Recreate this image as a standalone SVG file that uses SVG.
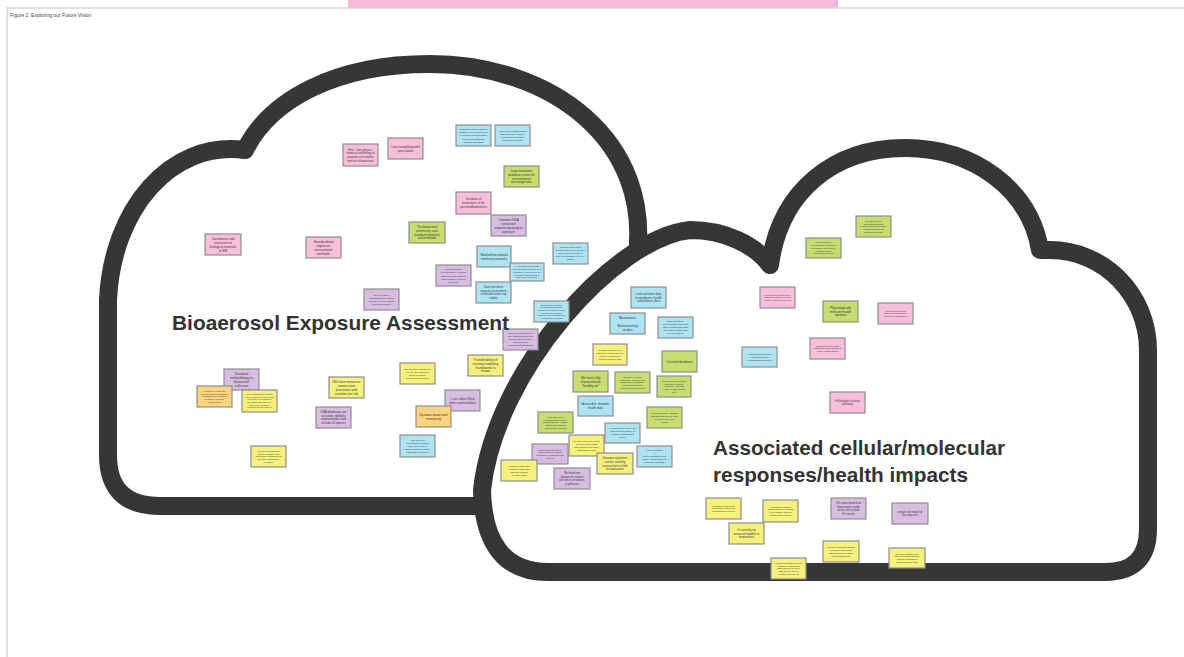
<svg xmlns="http://www.w3.org/2000/svg" width="1184" height="657" viewBox="0 0 1184 657">
<style>
.cloud{fill:#fff;stroke:#363636;stroke-width:18;stroke-linejoin:round}
.note rect{stroke:#8e8e8e;stroke-width:1.2}
.pk{fill:#f8bfdb}.bl{fill:#aee3f4}.gr{fill:#c8dd70}.pu{fill:#d8bde2}.ye{fill:#f6f07c}.or{fill:#fcd47f}
.note text{font-family:"Liberation Sans",Arial,sans-serif;fill:#3a3a3a;text-anchor:middle}
.head{font-family:"Liberation Sans",Arial,sans-serif;font-weight:700;font-size:20.5px;fill:#333}
.title{font-family:"Liberation Sans",Arial,sans-serif;font-size:5px;fill:#444}
</style>
<rect x="0" y="0" width="1184" height="657" fill="#fff"/>
<rect x="348" y="0" width="490" height="8" fill="#f8bad8"/>
<rect x="7" y="8" width="1190" height="660" fill="none" stroke="#d6d6d6" stroke-width="1.5"/>
<text class="title" x="10" y="17">Figure 2: Exploring our Future Vision</text>

<g id="cloud-left">
<path class="cloud" d="M160 506 L600 506 L640 330 L636 262 C655 140 550 64 430 64 C335 64 270 100 245 150 C170 140 112 210 108 300 L108 455 Q108 506 160 506 Z"/>
</g>
<g id="cloud-right">
<path class="cloud" d="M548 572 L1105 572 Q1148 572 1148 529 L1148 350 C1148 295 1104 250 1050 250 L1040 250 C1030 190 975 148 905 148 C835 148 780 190 770 265 C755 245 725 230 690 230 C615 238 495 370 482 490 Q484 572 548 572 Z"/>
</g>

<g id="connectors"></g>

<g id="n1" class="note"><rect class="pk" x="343" y="144" width="35" height="22"/><text font-size="2.8"><tspan x="360.5" y="150.7">Real - time physico-</tspan><tspan x="360.5" y="154.3">chemical and biological</tspan><tspan x="360.5" y="157.9">properties of complex</tspan><tspan x="360.5" y="161.5">mixture of bioaerosol</tspan></text></g>
<g id="n2" class="note"><rect class="pk" x="388" y="138" width="35" height="21"/><text font-size="3.5"><tspan x="405.5" y="147.6">Live sampling with</tspan><tspan x="405.5" y="152.1">speciation</tspan></text></g>
<g id="n3" class="note"><rect class="bl" x="456" y="125" width="35" height="21"/><text font-size="2.3"><tspan x="473.5" y="130.2">Benchmarking the mutation</tspan><tspan x="473.5" y="133.3">database mix for developers</tspan><tspan x="473.5" y="136.4">to provide high-throughput</tspan><tspan x="473.5" y="139.5">genotyping databases</tspan><tspan x="473.5" y="142.6">(network standards)</tspan></text></g>
<g id="n4" class="note"><rect class="bl" x="495" y="125" width="35" height="21"/><text font-size="2.5"><tspan x="512.5" y="131.8">High-tech measurements</tspan><tspan x="512.5" y="134.9">with data mix used by</tspan><tspan x="512.5" y="138">experts to represent</tspan><tspan x="512.5" y="141.1">dispersion models</tspan></text></g>
<g id="n5" class="note"><rect class="gr" x="504" y="166" width="35" height="21"/><text font-size="3"><tspan x="521.5" y="171.9">Large taxonomic</tspan><tspan x="521.5" y="175.7">databases exists for</tspan><tspan x="521.5" y="179.5">environmental</tspan><tspan x="521.5" y="183.3">microorganisms</tspan></text></g>
<g id="n6" class="note"><rect class="pk" x="456" y="192" width="35" height="22"/><text font-size="2.9"><tspan x="473.5" y="200.3">Database of</tspan><tspan x="473.5" y="204.1">biomarkers of the</tspan><tspan x="473.5" y="207.9">specified/biomonitors</tspan></text></g>
<g id="n7" class="note"><rect class="pu" x="491" y="215" width="35" height="21"/><text font-size="3.2"><tspan x="508.5" y="220.7">Common DNA</tspan><tspan x="508.5" y="224.7">extraction/</tspan><tspan x="508.5" y="228.7">sequencing analysis</tspan><tspan x="508.5" y="232.7">approach</tspan></text></g>
<g id="n8" class="note"><rect class="pk" x="205" y="234" width="36" height="21"/><text font-size="3.1"><tspan x="223" y="239.7">Contribution and</tspan><tspan x="223" y="243.7">interaction of</tspan><tspan x="223" y="247.7">biological materials</tspan><tspan x="223" y="251.7">to PM</tspan></text></g>
<g id="n9" class="note"><rect class="pk" x="306" y="237" width="35" height="21"/><text font-size="3.4"><tspan x="323.5" y="242.7">Standardised</tspan><tspan x="323.5" y="246.7">exposure</tspan><tspan x="323.5" y="250.7">assessment</tspan><tspan x="323.5" y="254.7">methods</tspan></text></g>
<g id="n10" class="note"><rect class="gr" x="409" y="222" width="36" height="21"/><text font-size="3.1"><tspan x="427" y="227.9">The bioaerosol</tspan><tspan x="427" y="231.7">community uses</tspan><tspan x="427" y="235.5">standard protocols</tspan><tspan x="427" y="239.3">and methods</tspan></text></g>
<g id="n11" class="note"><rect class="pu" x="436" y="265" width="35" height="21"/><text font-size="2.5"><tspan x="453.5" y="270.1">Robust globally</tspan><tspan x="453.5" y="273.3">representative (spatial)</tspan><tspan x="453.5" y="276.5">baseline data exists so</tspan><tspan x="453.5" y="279.7">that change(s) can be</tspan><tspan x="453.5" y="282.9">identified</tspan></text></g>
<g id="n12" class="note"><rect class="pu" x="364" y="289" width="35" height="21"/><text font-size="2.5"><tspan x="381.5" y="295.7">The exposure</tspan><tspan x="381.5" y="298.9">assessment is robust/</tspan><tspan x="381.5" y="302.1">validated, on at least the</tspan><tspan x="381.5" y="305.3">time and location</tspan></text></g>
<g id="n13" class="note"><rect class="bl" x="477" y="246" width="34" height="21"/><text font-size="2.9"><tspan x="494" y="255.7">National/international</tspan><tspan x="494" y="259.5">monitoring networks</tspan></text></g>
<g id="n14" class="note"><rect class="bl" x="510" y="263" width="34" height="18"/><text font-size="2.2"><tspan x="527" y="267.2">A regression model which</tspan><tspan x="527" y="270">analysis with confidence and</tspan><tspan x="527" y="272.8">a measure of bioaerosol, the</tspan><tspan x="527" y="275.6">accuracy distribution is at</tspan><tspan x="527" y="278.4">a 30-min or finer scale</tspan></text></g>
<g id="n15" class="note"><rect class="bl" x="476" y="282" width="35" height="21"/><text font-size="2.6"><tspan x="493.5" y="288.4">Good and robust</tspan><tspan x="493.5" y="291.8">exposure assessments</tspan><tspan x="493.5" y="295.2">are flexible/used in epi</tspan><tspan x="493.5" y="298.6">studies</tspan></text></g>
<g id="n16" class="note"><rect class="bl" x="553" y="243" width="35" height="21"/><text font-size="2.3"><tspan x="570.5" y="248.4">Characteristics of the</tspan><tspan x="570.5" y="251.4">bioaerosols are well defined</tspan><tspan x="570.5" y="254.4">when in the presence of</tspan><tspan x="570.5" y="257.4">other air pollutants (e.g. PM,</tspan><tspan x="570.5" y="260.4">gases)</tspan></text></g>
<g id="n17" class="note"><rect class="bl" x="534" y="301" width="35" height="21"/><text font-size="2.1"><tspan x="551.5" y="305.7">Identification of disease</tspan><tspan x="551.5" y="308.3">symptoms in bioaerosol</tspan><tspan x="551.5" y="311">exposure, the source-specific</tspan><tspan x="551.5" y="313.6">release of bioaerosols,</tspan><tspan x="551.5" y="316.3">emission rates and dispersion</tspan><tspan x="551.5" y="318.9">of bioaerosol emissions</tspan></text></g>
<g id="n18" class="note"><rect class="pu" x="503" y="329" width="35" height="21"/><text font-size="2.5"><tspan x="520.5" y="334.4">There is a repository of</tspan><tspan x="520.5" y="337.4">well characterised and</tspan><tspan x="520.5" y="340.4">tested samples taken</tspan><tspan x="520.5" y="343.4">from different</tspan><tspan x="520.5" y="346.4">environmental settings</tspan></text></g>
<g id="n19" class="note"><rect class="pu" x="224" y="369" width="35" height="21"/><text font-size="3.3"><tspan x="241.5" y="374.8">Standard</tspan><tspan x="241.5" y="378.7">methodology to</tspan><tspan x="241.5" y="382.6">bioaerosol</tspan><tspan x="241.5" y="386.5">collection</tspan></text></g>
<g id="n20" class="note"><rect class="or" x="197" y="386" width="35" height="21"/><text font-size="2.3"><tspan x="214.5" y="391.7">Continue to read and</tspan><tspan x="214.5" y="394.5">develop different sampling</tspan><tspan x="214.5" y="397.3">methods. Development</tspan><tspan x="214.5" y="400.1">frequently currently</tspan><tspan x="214.5" y="402.9">cultural times</tspan></text></g>
<g id="n21" class="note"><rect class="ye" x="242" y="390" width="35" height="22"/><text font-size="2.2"><tspan x="259.5" y="395.1">We turn sampling methods</tspan><tspan x="259.5" y="397.8">from air sampled to two parts</tspan><tspan x="259.5" y="400.4">to provide a comparison</tspan><tspan x="259.5" y="403.1">the right parts (dose) are</tspan><tspan x="259.5" y="405.7">bioaerosol metabolic</tspan><tspan x="259.5" y="408.4">reactions and the data set</tspan></text></g>
<g id="n22" class="note"><rect class="ye" x="329" y="377" width="35" height="21"/><text font-size="3.3"><tspan x="346.5" y="382.8">We have means to</tspan><tspan x="346.5" y="386.7">assess new</tspan><tspan x="346.5" y="390.6">processes and</tspan><tspan x="346.5" y="394.5">activities for risk</tspan></text></g>
<g id="n23" class="note"><rect class="pu" x="316" y="407" width="35" height="21"/><text font-size="3"><tspan x="333.5" y="413.2">DNA databases are</tspan><tspan x="333.5" y="416.8">accurate, globally</tspan><tspan x="333.5" y="420.4">representative and</tspan><tspan x="333.5" y="424">include all species</tspan></text></g>
<g id="n24" class="note"><rect class="ye" x="251" y="446" width="35" height="21"/><text font-size="2.3"><tspan x="268.5" y="451.7">We have a consistent</tspan><tspan x="268.5" y="454.5">metric to capture and</tspan><tspan x="268.5" y="457.3">bioaerosol emissions and</tspan><tspan x="268.5" y="460.1">the risk of bioaerosol</tspan><tspan x="268.5" y="462.9">exposure</tspan></text></g>
<g id="n25" class="note"><rect class="ye" x="400" y="363" width="35" height="21"/><text font-size="2.5"><tspan x="417.5" y="369.9">Bio-aerosols monitoring</tspan><tspan x="417.5" y="372.9">will be as normal as</tspan><tspan x="417.5" y="375.9">other air quality</tspan><tspan x="417.5" y="378.9">monitoring programs</tspan></text></g>
<g id="n26" class="note"><rect class="ye" x="468" y="355" width="35" height="21"/><text font-size="3.2"><tspan x="485.5" y="360.9">Transferability of</tspan><tspan x="485.5" y="364.7">existing modelling</tspan><tspan x="485.5" y="368.5">frameworks is</tspan><tspan x="485.5" y="372.3">known</tspan></text></g>
<g id="n27" class="note"><rect class="pu" x="445" y="390" width="35" height="21"/><text font-size="3.2"><tspan x="462.5" y="399.7">I can collect Real</tspan><tspan x="462.5" y="403.5">time resolved data</tspan></text></g>
<g id="n28" class="note"><rect class="or" x="416" y="406" width="35" height="21"/><text font-size="3.2"><tspan x="433.5" y="415.7">Dynamic bioaerosol</tspan><tspan x="433.5" y="419.5">monitoring</tspan></text></g>
<g id="n29" class="note"><rect class="bl" x="400" y="435" width="35" height="22"/><text font-size="2.4"><tspan x="417.5" y="441.1">I am part of a</tspan><tspan x="417.5" y="444">collaborative network</tspan><tspan x="417.5" y="446.9">where everyone is</tspan><tspan x="417.5" y="449.8">sharing samples and/or</tspan><tspan x="417.5" y="452.7">data and/or methods</tspan></text></g>

<g id="n30" class="note"><rect class="bl" x="631" y="287" width="35" height="21"/><text font-size="3.1"><tspan x="648.5" y="294.8">Link real-time data</tspan><tspan x="648.5" y="298.6">to syndromic health</tspan><tspan x="648.5" y="302.4">surveillance data</tspan></text></g>
<g id="n31" class="note"><rect class="bl" x="610" y="313" width="35" height="21"/><text font-size="3.3"><tspan x="627.5" y="318.8">Biomarkers</tspan><tspan x="627.5" y="326.6">Biomonitoring</tspan><tspan x="627.5" y="330.5">studies</tspan></text></g>
<g id="n32" class="note"><rect class="bl" x="658" y="317" width="35" height="21"/><text font-size="2.5"><tspan x="675.5" y="322.4">Easy access to</tspan><tspan x="675.5" y="325.4">demographic data and</tspan><tspan x="675.5" y="328.4">other confounding data</tspan><tspan x="675.5" y="331.4">and linked health data</tspan><tspan x="675.5" y="334.4">for our studies</tspan></text></g>
<g id="n33" class="note"><rect class="ye" x="593" y="344" width="34" height="21"/><text font-size="2.5"><tspan x="610" y="350.9">perhaps cohorts from</tspan><tspan x="610" y="353.9">different communities to</tspan><tspan x="610" y="356.9">capture longitudinal</tspan><tspan x="610" y="359.9">health outcome data</tspan></text></g>
<g id="n34" class="note"><rect class="gr" x="662" y="351" width="35" height="21"/><text font-size="3.3"><tspan x="679.5" y="362.7">Curated database</tspan></text></g>
<g id="n35" class="note"><rect class="gr" x="573" y="371" width="35" height="21"/><text font-size="3.3"><tspan x="590.5" y="378.8">We have fully</tspan><tspan x="590.5" y="382.7">characterised</tspan><tspan x="590.5" y="386.6">"healthy air"</tspan></text></g>
<g id="n36" class="note"><rect class="gr" x="615" y="372" width="35" height="21"/><text font-size="2.3"><tspan x="632.5" y="377.7">Microbial - mining</tspan><tspan x="632.5" y="380.5">knowledge, complex and</tspan><tspan x="632.5" y="383.3">antimicrobial resistance</tspan><tspan x="632.5" y="386.1">data into modelling</tspan><tspan x="632.5" y="388.9">ongoing measurements</tspan></text></g>
<g id="n37" class="note"><rect class="gr" x="657" y="376" width="34" height="21"/><text font-size="2.3"><tspan x="674" y="381.7">Recreational and cohort</tspan><tspan x="674" y="384.5">studies on outdoor</tspan><tspan x="674" y="387.3">exposure - linked to</tspan><tspan x="674" y="390.1">routine health records</tspan><tspan x="674" y="392.9">data</tspan></text></g>
<g id="n40" class="note"><rect class="bl" x="578" y="396" width="35" height="20"/><text font-size="3"><tspan x="595.5" y="405.2">Accessible, sharable</tspan><tspan x="595.5" y="409">health data</tspan></text></g>
<g id="n41" class="note"><rect class="gr" x="538" y="412" width="35" height="21"/><text font-size="2.4"><tspan x="555.5" y="417.6">Heterogeneity in</tspan><tspan x="555.5" y="420.5">methods and studies;</tspan><tspan x="555.5" y="423.4">communication, registry,</tspan><tspan x="555.5" y="426.3">quality and sharing</tspan><tspan x="555.5" y="429.2">data/sample sharing</tspan></text></g>
<g id="n42" class="note"><rect class="gr" x="647" y="407" width="35" height="21"/><text font-size="2.4"><tspan x="664.5" y="413.8">Genomic profile - provide</tspan><tspan x="664.5" y="416.9">assessments so get more</tspan><tspan x="664.5" y="420">exposure and more</tspan><tspan x="664.5" y="423.1">people</tspan></text></g>
<g id="n43" class="note"><rect class="bl" x="605" y="423" width="35" height="20"/><text font-size="2.3"><tspan x="622.5" y="429.4">In vitro models and ex vivo</tspan><tspan x="622.5" y="432.4">models representative of</tspan><tspan x="622.5" y="435.4">a human demographic</tspan><tspan x="622.5" y="438.4">group</tspan></text></g>
<g id="n44" class="note"><rect class="ye" x="569" y="435" width="35" height="21"/><text font-size="2.4"><tspan x="586.5" y="442">we have access to health</tspan><tspan x="586.5" y="444.9">exposure and health</tspan><tspan x="586.5" y="447.8">data because we share</tspan><tspan x="586.5" y="450.7">data with the hub</tspan></text></g>
<g id="n45" class="note"><rect class="pu" x="532" y="444" width="36" height="20"/><text font-size="2.4"><tspan x="550" y="450.5">Global what to look for</tspan><tspan x="550" y="453.4">know how to in health</tspan><tspan x="550" y="456.3">outcomes, treatments and</tspan><tspan x="550" y="459.2">not only</tspan></text></g>
<g id="n46" class="note"><rect class="bl" x="637" y="446" width="35" height="21"/><text font-size="2.4"><tspan x="654.5" y="451.4">Lots of funding</tspan><tspan x="654.5" y="454.4">&amp;</tspan><tspan x="654.5" y="457.4">lots of interaction from</tspan><tspan x="654.5" y="460.4">public, participants and</tspan><tspan x="654.5" y="463.4">computer scientists</tspan></text></g>
<g id="n47" class="note"><rect class="ye" x="597" y="453" width="36" height="21"/><text font-size="3.1"><tspan x="615" y="459.1">Disease registries</tspan><tspan x="615" y="462.8">can be used by</tspan><tspan x="615" y="466.5">researchers to link</tspan><tspan x="615" y="470.2">to exposures</tspan></text></g>
<g id="n48" class="note"><rect class="ye" x="501" y="460" width="36" height="21"/><text font-size="2.4"><tspan x="519" y="467">combine health and</tspan><tspan x="519" y="469.9">exposure data from</tspan><tspan x="519" y="472.8">different cohorts</tspan><tspan x="519" y="475.7">to share data</tspan></text></g>
<g id="n49" class="note"><rect class="pu" x="554" y="468" width="36" height="21"/><text font-size="2.6"><tspan x="572" y="474.3">We know how</tspan><tspan x="572" y="477.8">bioaerosols interact</tspan><tspan x="572" y="481.3">with other constituents</tspan><tspan x="572" y="484.8">of pollutants</tspan></text></g>
<g id="n50" class="note"><rect class="gr" x="856" y="216" width="35" height="21"/><text font-size="2.4"><tspan x="873.5" y="221.6">We have clearly</tspan><tspan x="873.5" y="224.5">delineated immune</tspan><tspan x="873.5" y="227.4">responses that identifies</tspan><tspan x="873.5" y="230.3">health promoting vs</tspan><tspan x="873.5" y="233.2">harming response</tspan></text></g>
<g id="n51" class="note"><rect class="gr" x="806" y="238" width="35" height="20"/><text font-size="2.3"><tspan x="823.5" y="243.2">Low biologically</tspan><tspan x="823.5" y="246">relevant/tissue models to</tspan><tspan x="823.5" y="248.8">investigate direct effect</tspan><tspan x="823.5" y="251.6">on bacteria and</tspan><tspan x="823.5" y="254.4">interaction with host</tspan></text></g>
<g id="n52" class="note"><rect class="pk" x="760" y="287" width="35" height="21"/><text font-size="2.3"><tspan x="777.5" y="295.5">Cumulative impairment to</tspan><tspan x="777.5" y="298.3">establish complete in vitro</tspan><tspan x="777.5" y="301.1">system modelling the lung</tspan></text></g>
<g id="n53" class="note"><rect class="gr" x="823" y="301" width="35" height="21"/><text font-size="3.2"><tspan x="840.5" y="308.8">Physiologically</tspan><tspan x="840.5" y="312.6">relevant model</tspan><tspan x="840.5" y="316.4">systems</tspan></text></g>
<g id="n54" class="note"><rect class="pk" x="878" y="303" width="35" height="21"/><text font-size="2.3"><tspan x="895.5" y="311.5">Individual factor and</tspan><tspan x="895.5" y="314.3">differences should be</tspan><tspan x="895.5" y="317.1">considered and studied</tspan></text></g>
<g id="n55" class="note"><rect class="pk" x="810" y="338" width="35" height="21"/><text font-size="2.3"><tspan x="827.5" y="346.5">assessments of health</tspan><tspan x="827.5" y="349.3">outcomes; effects should be</tspan><tspan x="827.5" y="352.1">more realistic doses</tspan></text></g>
<g id="n56" class="note"><rect class="bl" x="742" y="347" width="35" height="20"/><text font-size="2.3"><tspan x="759.5" y="355">Health impacts at large</tspan><tspan x="759.5" y="357.8">population scales</tspan><tspan x="759.5" y="360.6">epidemiological studies</tspan></text></g>
<g id="n57" class="note"><rect class="pk" x="830" y="392" width="35" height="21"/><text font-size="2.9"><tspan x="847.5" y="401.8">Full droplet or basic</tspan><tspan x="847.5" y="405.3">pathway</tspan></text></g>
<g id="n58" class="note"><rect class="ye" x="706" y="498" width="35" height="21"/><text font-size="2.3"><tspan x="723.5" y="506.5">Creating new/relevant</tspan><tspan x="723.5" y="509.3">models to examine the</tspan><tspan x="723.5" y="512.1">mechanisms of toxicity</tspan></text></g>
<g id="n59" class="note"><rect class="ye" x="763" y="500" width="35" height="22"/><text font-size="2.3"><tspan x="780.5" y="507.6">Creating the models</tspan><tspan x="780.5" y="510.4">standardized via cultures</tspan><tspan x="780.5" y="513.2">to be globally with our</tspan><tspan x="780.5" y="516">biomarkers to identify</tspan></text></g>
<g id="n60" class="note"><rect class="ye" x="729" y="523" width="35" height="21"/><text font-size="3"><tspan x="746.5" y="531">It currently no</tspan><tspan x="746.5" y="534.6">universal models or</tspan><tspan x="746.5" y="538.2">biomarkers</tspan></text></g>
<g id="n61" class="note"><rect class="pu" x="831" y="498" width="35" height="21"/><text font-size="2.8"><tspan x="848.5" y="504.4">We understand how</tspan><tspan x="848.5" y="507.8">bioaerosols reside</tspan><tspan x="848.5" y="511.2">across the human</tspan><tspan x="848.5" y="514.6">life course</tspan></text></g>
<g id="n62" class="note"><rect class="pu" x="892" y="503" width="36" height="21"/><text font-size="2.8"><tspan x="910" y="512.8">unique cell model of</tspan><tspan x="910" y="516.2">the exposure</tspan></text></g>
<g id="n63" class="note"><rect class="ye" x="823" y="541" width="36" height="21"/><text font-size="2.4"><tspan x="841" y="548">we have access to health</tspan><tspan x="841" y="550.9">exposure and health</tspan><tspan x="841" y="553.8">data because we share</tspan><tspan x="841" y="556.7">data with the hub</tspan></text></g>
<g id="n64" class="note"><rect class="ye" x="889" y="548" width="36" height="20"/><text font-size="2.4"><tspan x="907" y="554.5">we have cohorts from</tspan><tspan x="907" y="557.4">different communities to</tspan><tspan x="907" y="560.3">capture longitudinal</tspan><tspan x="907" y="563.2">health outcome data</tspan></text></g>
<g id="n65" class="note"><rect class="ye" x="771" y="558" width="35" height="21"/><text font-size="2.2"><tspan x="788.5" y="564">combine air data from local</tspan><tspan x="788.5" y="566.6">respiratory road data to</tspan><tspan x="788.5" y="569.3">match with the exposure</tspan><tspan x="788.5" y="571.9">data and an efficient</tspan><tspan x="788.5" y="574.6">to data across the lab</tspan></text></g>

<g id="label-left"><text class="head" x="172" y="330" textLength="337" lengthAdjust="spacingAndGlyphs">Bioaerosol  Exposure Assessment</text></g>
<g id="label-right"><text class="head" x="713" y="455" textLength="292" lengthAdjust="spacingAndGlyphs">Associated cellular/molecular</text><text class="head" x="713" y="482" textLength="255" lengthAdjust="spacingAndGlyphs">responses/health impacts</text></g>
</svg>
